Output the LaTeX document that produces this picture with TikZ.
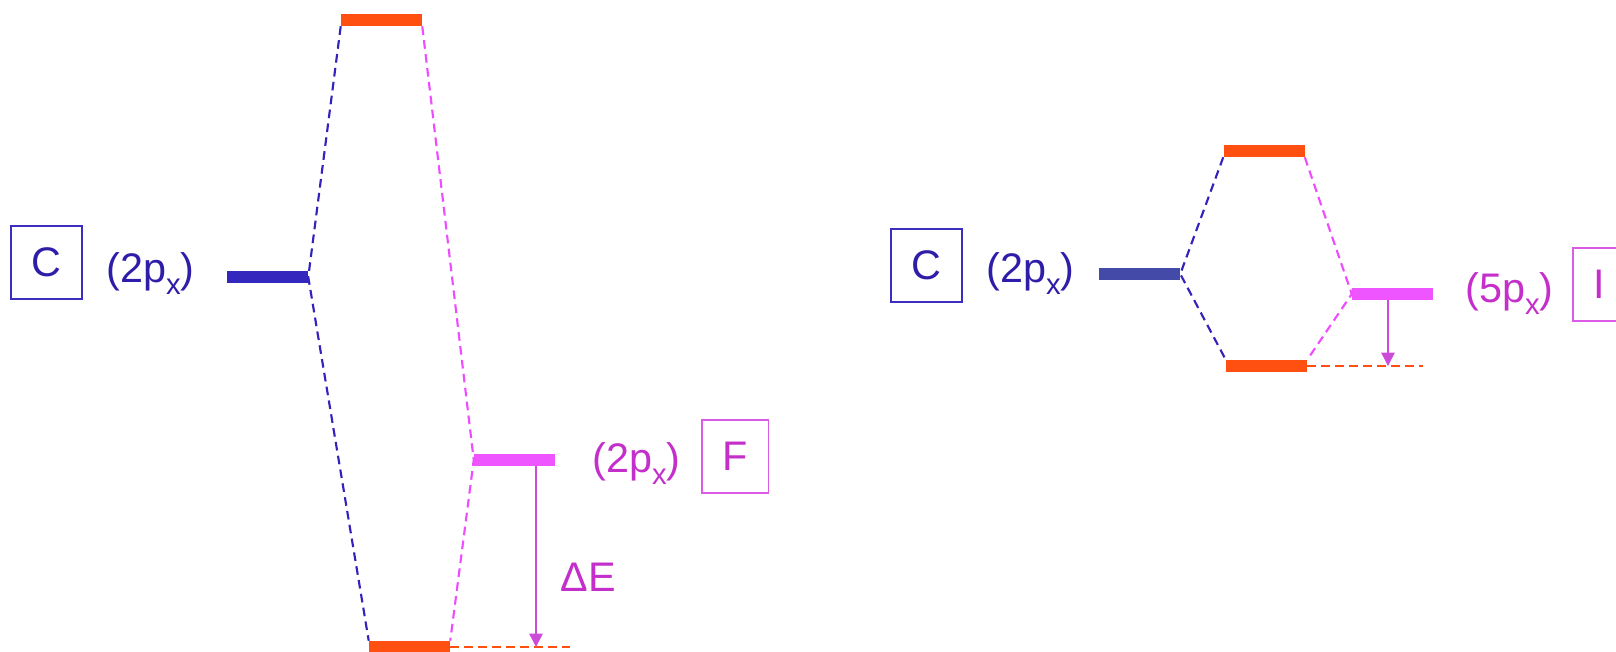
\documentclass[tikz,border=0pt]{standalone}
\usepackage{fontspec}
\setmainfont{Liberation Sans}
\usetikzlibrary{arrows.meta}
\definecolor{blueT}{HTML}{2E1DA8}
\definecolor{blueBox}{HTML}{3A2DC0}
\definecolor{blueBarL}{HTML}{3327BE}
\definecolor{blueBarR}{HTML}{444AA8}
\definecolor{blueDash}{HTML}{3322BB}
\definecolor{orangeBar}{HTML}{FF5011}
\definecolor{pinkBar}{HTML}{EE55FF}
\definecolor{pinkT}{HTML}{C42FCC}
\definecolor{pinkBox}{HTML}{DA5CE6}
\definecolor{pinkDash}{HTML}{EE4CFF}
\definecolor{arrowC}{HTML}{CC4BD9}
\newcommand{\lbl}{\fontsize{31}{37}\selectfont}
\newcommand{\subx}{\raisebox{-9pt}{\fontsize{22}{22}\selectfont x}}
\begin{document}
\begin{tikzpicture}[x=0.75pt,y=-0.75pt,
  bar/.style={rectangle, inner sep=0pt, minimum width=60.75pt, minimum height=9pt, draw=none},
  elbox/.style={rectangle, draw, line width=1.2pt, minimum height=54.75pt, inner xsep=15.5pt, inner ysep=0pt, font=\lbl},
  orb/.style={anchor=base west, inner sep=0pt, font=\lbl},
  dashline/.style={line width=1.6pt, dash pattern=on 6.5pt off 4pt},
  arr/.style={line width=1.1pt, draw=arrowC, -{Triangle[length=10pt,width=10pt]}}
]
\useasboundingbox (0,0) rectangle (1616,652);

% ---------------- left diagram ----------------
\node[elbox, draw=blueBox, text=blueT] (c1) at (46.5,262.5) {C};
\node[orb, text=blueT] (c1o) at (106,282) {(2p\subx)};
\node[bar, fill=blueBarL] (b1) at (267.5,277) {};
\node[bar, fill=orangeBar] (t1) at (381.5,20) {};
\node[bar, fill=orangeBar] (d1) at (409.5,647) {};
\node[bar, fill=pinkBar] (f1) at (514.5,460) {};
\node[orb, text=pinkT] (f1o) at (592,472) {(2p\subx)};
\node[elbox, draw=pinkBox, text=pinkT] (fbox) at (735,456.5) {F};
\node[text=pinkT, font=\lbl, inner sep=0pt] (de) at (588,577) {ΔE};

\draw[dashline, draw=blueDash] (t1.south west) -- (b1.east) -- (d1.north west);
\draw[dashline, draw=pinkDash] (t1.south east) -- (f1.west) -- (d1.north east);
\coordinate (e1) at (570,647);
\draw[dashline, draw=orangeBar] (d1.east) -- (e1);
\coordinate (a1) at (536,0);
\draw[arr] (a1 |- f1.south) -- (a1 |- e1);

% ---------------- right diagram ----------------
\node[elbox, draw=blueBox, text=blueT] (c2) at (926.5,265.5) {C};
\node[orb, text=blueT] (c2o) at (986,282) {(2p\subx)};
\node[bar, fill=blueBarR] (b2) at (1139.5,274) {};
\node[bar, fill=orangeBar] (t2) at (1264,151) {};
\node[bar, fill=orangeBar] (d2) at (1266.5,366) {};
\node[bar, fill=pinkBar] (i2) at (1392.5,294) {};
\node[orb, text=pinkT] (i2o) at (1465,302) {(5p\subx)};
\node[elbox, draw=pinkBox, text=pinkT] (ibox) at (1599.5,284.5) {I};

\draw[dashline, draw=blueDash] (t2.south west) -- (b2.east) -- (d2.north west);
\draw[dashline, draw=pinkDash] (t2.south east) -- (i2.west) -- (d2.north east);
\coordinate (e2) at (1423,366);
\draw[dashline, draw=orangeBar] (d2.east) -- (e2);
\coordinate (a2) at (1388,0);
\draw[arr] (a2 |- i2.south) -- (a2 |- e2);
\end{tikzpicture}
\end{document}
